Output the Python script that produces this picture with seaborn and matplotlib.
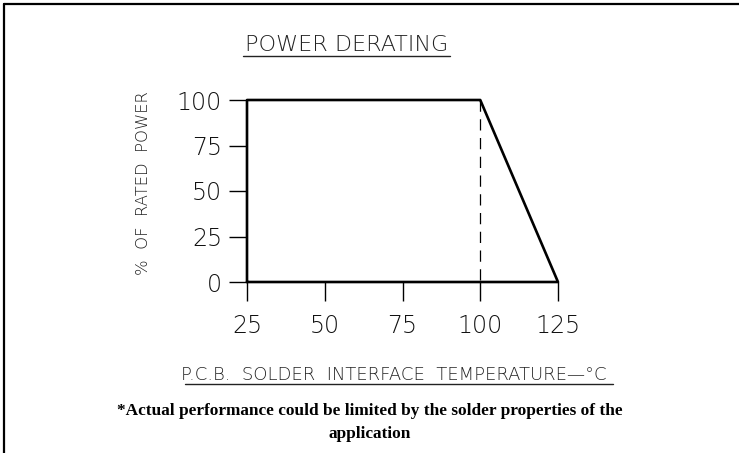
import matplotlib
matplotlib.use("Agg")
import matplotlib.pyplot as plt
from matplotlib.lines import Line2D
import seaborn as sns
import pandas as pd

# Data
temps = [25, 25, 100, 125, 25]          # derating curve outline (°C)
power = [0, 100, 100, 0, 0]             # % of rated power
knee_temp = [100, 100]
knee_power = [100, 0]
x_ticks = [25, 50, 75, 100, 125]
y_ticks = [0, 25, 50, 75, 100]
title_text = "POWER DERATING"
xlabel_text = "P.C.B.  SOLDER  INTERFACE  TEMPERATURE\u2014\u00b0C"
ylabel_text = "%  OF  RATED  POWER"
note_line1 = "*Actual performance could be limited by the solder properties of the"
note_line2 = "application"

sns.set_style("white")
plt.rcParams['font.family'] = ['DejaVu Sans']

W, H = 739, 453
fig = plt.figure(figsize=(W / 100, H / 100), dpi=100)
ax = fig.add_axes([247 / W, (H - 282) / H, 311 / W, 182 / H])

df = pd.DataFrame({"t": temps, "p": power})
sns.lineplot(data=df, x="t", y="p", sort=False, estimator=None, ax=ax,
             color="black", linewidth=1.9)
sns.lineplot(x=knee_temp, y=knee_power, sort=False, estimator=None, ax=ax,
             color="black", linewidth=0.9, dashes=False)
for l in ax.lines:
    l.set_clip_on(False)
ax.lines[-1].set_linestyle((0, (9, 6)))

ax.set_xlim(25, 125)
ax.set_ylim(0, 100)
for s in ax.spines.values():
    s.set_visible(False)
ax.set_xticks(x_ticks)
ax.set_yticks(y_ticks)
ax.set_xticklabels([str(v) for v in x_ticks])
ax.set_yticklabels([str(v) for v in y_ticks])
ax.tick_params(axis="x", direction="out", length=14, width=1.0, pad=9,
               labelsize=17, colors="black", labelcolor="#111111", bottom=True)
ax.tick_params(axis="y", direction="out", length=13, width=1.0, pad=5,
               labelsize=17, colors="black", labelcolor="#111111", left=True)
for lab in ax.get_xticklabels() + ax.get_yticklabels():
    lab.set_fontweight("light")
ax.set_xlabel("")
ax.set_ylabel("")
ax.patch.set_alpha(0)

# Title with underline
fig.text(346.5 / W, (H - 45) / H, title_text, ha="center", va="center",
         fontsize=16, color="#222222", fontweight="light")
fig.add_artist(Line2D([243 / W, 450 / W], [(H - 56) / H, (H - 56) / H],
                      color="#222222", linewidth=1.0, transform=fig.transFigure))

# X label with underline
fig.text(394 / W, (H - 375) / H, xlabel_text, ha="center", va="center",
         fontsize=13, color="#222222", fontweight="light")
fig.add_artist(Line2D([185 / W, 613 / W], [(H - 384) / H, (H - 384) / H],
                      color="#222222", linewidth=1.0, transform=fig.transFigure))

# Y label
fig.text(143 / W, (H - 183) / H, ylabel_text, ha="center", va="center",
         rotation=90, fontsize=11.8, color="#222222", fontweight="light")

# Note
fig.text(370 / W, (H - 411) / H, note_line1, ha="center", va="center",
         fontsize=12.4, fontweight="bold", family=["Liberation Serif"], color="black")
fig.text(370 / W, (H - 434) / H, note_line2, ha="center", va="center",
         fontsize=12.4, fontweight="bold", family=["Liberation Serif"], color="black")

# Frame lines (top and left)
fig.add_artist(Line2D([4 / W, 1.0], [(H - 4) / H, (H - 4) / H], color="black",
                      linewidth=1.6, transform=fig.transFigure))
fig.add_artist(Line2D([4 / W, 4 / W], [0, (H - 4) / H], color="black",
                      linewidth=1.6, transform=fig.transFigure))

fig.savefig("out.png", dpi=100)
